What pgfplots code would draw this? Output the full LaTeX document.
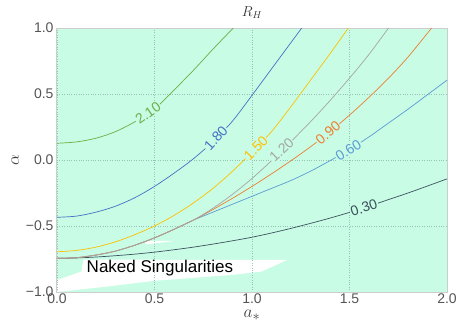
\documentclass[border=0pt]{standalone}
\usepackage{fontspec}
\setmainfont{Liberation Sans}
\usepackage{pgfplots}
\pgfplotsset{compat=1.18}

\definecolor{mint}{RGB}{200,252,228}
\definecolor{tickgray}{RGB}{85,85,85}
\definecolor{gridc}{RGB}{150,195,180}
\definecolor{framec}{RGB}{205,205,205}
\definecolor{c210}{RGB}{112,173,71}
\definecolor{c180}{RGB}{68,114,196}
\definecolor{c150}{RGB}{255,192,0}
\definecolor{c120}{RGB}{165,165,165}
\definecolor{c090}{RGB}{237,125,49}
\definecolor{c060}{RGB}{91,155,213}
\definecolor{c030}{RGB}{60,80,95}

\begin{document}
\begin{tikzpicture}
\begin{axis}[
  set layers,
  scale only axis, width=390pt, height=264pt,
  xmin=0, xmax=2, ymin=-1, ymax=1,
  xtick={0,0.5,1,1.5,2}, xticklabels={0.0,0.5,1.0,1.5,2.0},
  ytick={-1,-0.5,0,0.5,1}, yticklabels={−1.0,−0.5,0.0,0.5,1.0},
  major tick length=0pt,
  tick label style={font=\fontsize{14}{16}\selectfont, text=tickgray},
  xticklabel style={yshift=2pt},
  grid=major, grid style={dotted, gridc, line width=0.5pt},
  axis line style={framec, line width=1pt},
  axis background/.style={fill=mint},
  title={$R_H$},
  title style={font=\fontsize{14}{16}\selectfont, text=black!80},
  xlabel={$a_*$}, ylabel={$\alpha$},
  label style={font=\fontsize{19}{21}\selectfont, text=black!75},
  every axis plot/.append style={line width=0.7pt},
  clip=true,
]
% excluded regions
\addplot[fill=white, draw=none, on layer=axis background] coordinates {
  (0,-1.0) (0.25,-0.96) (0.5,-0.915) (0.7,-0.893) (0.9,-0.87) (1.05,-0.845)
  (1.18,-0.757) (0.135,-0.755) (0.125,-0.845) (0,-0.91)
} --cycle;
\addplot[fill=white, draw=none, on layer=axis background] coordinates {
  (0.455,-0.614) (0.61,-0.612) (0.455,-0.64)
} --cycle;

% R_H = 2.10
\addplot[c210, smooth] coordinates {
  (0,0.127) (0.1,0.137) (0.2,0.165) (0.3,0.215) (0.4,0.29) (0.5,0.385)
  (0.6,0.53) (0.7,0.68) (0.8,0.84) (0.904,1.0)
};
% R_H = 1.80
\addplot[c180, smooth] coordinates {
  (0,-0.434) (0.1,-0.425) (0.2,-0.395) (0.3,-0.35) (0.4,-0.285) (0.5,-0.2)
  (0.6,-0.1) (0.7,0.01) (0.8,0.14) (0.9,0.295) (1.0,0.49) (1.1,0.69)
  (1.2,0.89) (1.255,1.0)
};
% R_H = 1.50
\addplot[c150, smooth] coordinates {
  (0,-0.695) (0.1,-0.685) (0.2,-0.66) (0.3,-0.62) (0.4,-0.565) (0.5,-0.5)
  (0.6,-0.42) (0.7,-0.325) (0.8,-0.215) (0.9,-0.085) (1.0,0.06) (1.1,0.215)
  (1.2,0.405) (1.3,0.605) (1.4,0.805) (1.494,1.0)
};
% R_H = 0.30
\addplot[c030, smooth] coordinates {
  (0,-0.745) (0.1,-0.742) (0.2,-0.735) (0.3,-0.725) (0.4,-0.713) (0.5,-0.698)
  (0.6,-0.68) (0.7,-0.66) (0.8,-0.637) (0.9,-0.612) (1.0,-0.585) (1.1,-0.553)
  (1.2,-0.518) (1.3,-0.48) (1.4,-0.44) (1.5,-0.397) (1.6,-0.35) (1.7,-0.3)
  (1.8,-0.25) (1.9,-0.197) (2.0,-0.143)
};
% R_H = 0.60
\addplot[c060, smooth] coordinates {
  (0,-0.745) (0.1,-0.74) (0.2,-0.72) (0.3,-0.69) (0.4,-0.645) (0.5,-0.59)
  (0.6,-0.525) (0.7,-0.455) (0.8,-0.395) (0.9,-0.335) (1.0,-0.275) (1.1,-0.215)
  (1.2,-0.155) (1.3,-0.085) (1.4,-0.005) (1.5,0.08) (1.6,0.175) (1.7,0.28)
  (1.8,0.385) (1.9,0.495) (2.0,0.605)
};
% R_H = 0.90
\addplot[c090, smooth] coordinates {
  (0,-0.745) (0.1,-0.74) (0.2,-0.72) (0.3,-0.69) (0.4,-0.645) (0.5,-0.59)
  (0.6,-0.525) (0.7,-0.455) (0.8,-0.375) (0.9,-0.29) (1.0,-0.2) (1.1,-0.105)
  (1.2,-0.005) (1.3,0.1) (1.4,0.215) (1.5,0.34) (1.6,0.475) (1.7,0.62)
  (1.8,0.78) (1.921,1.0)
};
% R_H = 1.20
\addplot[c120, smooth] coordinates {
  (0,-0.745) (0.1,-0.74) (0.2,-0.72) (0.3,-0.69) (0.4,-0.645) (0.5,-0.59)
  (0.6,-0.525) (0.7,-0.455) (0.8,-0.365) (0.9,-0.26) (1.0,-0.14) (1.1,-0.005)
  (1.2,0.14) (1.3,0.29) (1.4,0.45) (1.5,0.62) (1.6,0.8) (1.70,1.0)
};

% contour labels
\begin{scope}[every node/.style={fill=mint, inner sep=1pt,
    font=\fontsize{14}{16}\selectfont}]
\node[rotate=35, text=c210] at (axis cs:0.467,0.355) {2.10};
\node[rotate=48, text=c180] at (axis cs:0.815,0.165) {1.80};
\node[rotate=45, text=c150] at (axis cs:1.02,0.09) {1.50};
\node[rotate=43, text=c120] at (axis cs:1.152,0.075) {1.20};
\node[rotate=40, text=c090] at (axis cs:1.39,0.205) {0.90};
\node[rotate=32, text=c060] at (axis cs:1.494,0.075) {0.60};
\node[rotate=18, text=c030] at (axis cs:1.574,-0.362) {0.30};
\end{scope}

\node[font=\fontsize{17}{20}\selectfont, text=black] at (axis cs:0.528,-0.818)
  {Naked Singularities};
\end{axis}
\pgfresetboundingbox
\path (-57pt,-43pt) rectangle (406pt,292pt);
\end{tikzpicture}
\end{document}
